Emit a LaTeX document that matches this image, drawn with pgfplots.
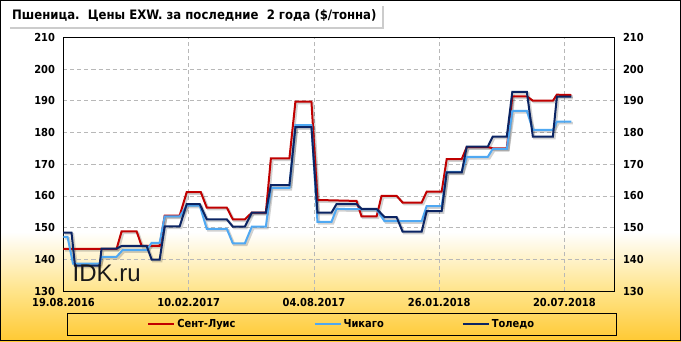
\documentclass[border=0pt]{standalone}
\usepackage{fontspec}
\setmainfont{DejaVu Sans Condensed}
\newfontfamily\wmfont{Liberation Sans}
\usepackage{pgfplots}
\usepackage{pgfplotstable}
\pgfplotsset{compat=1.18}
\definecolor{stl}{HTML}{C00000}
\definecolor{chi}{HTML}{4FA8F2}
\definecolor{tol}{HTML}{0B2463}
\definecolor{gold}{HTML}{FFC933}
\definecolor{goldlight}{HTML}{FFE386}
\pgfdeclareverticalshading{bgshade}{100bp}{color(0bp)=(gold); color(25bp)=(gold); color(32bp)=(goldlight); color(41bp)=(white); color(100bp)=(white)}

\pgfplotstableread{
x y
0 143.3
10.6 143.3
11.6 148.8
14.6 148.8
15.6 144.2
19.2 144.2
20.2 153.8
23.2 153.8
24.6 161.2
27.4 161.2
28.6 156.3
32.6 156.3
33.8 152.6
36.2 152.6
37.6 154.7
40.4 154.7
41.4 171.8
45.1 171.8
46.3 189.7
49.5 189.7
50.7 158.7
58.5 158.4
59.5 153.5
62.5 153.5
63.5 160.0
66.5 160.0
67.7 157.9
71.5 157.9
72.5 161.3
75.5 161.3
76.5 171.6
79.5 171.6
80.5 175.4
84.7 175.4
85.7 175.0
88.5 175.0
89.6 191.4
92.5 191.4
93.7 190.0
97.7 190.0
98.5 191.9
101.4 191.8
}\stl

\pgfplotstableread{
x y
0 147.1
0.8 147.1
1.9 138.6
7.2 138.6
7.6 140.8
10.6 140.8
11.8 142.9
16.6 142.9
17.6 145.2
19.2 145.2
20.2 153.5
23.2 153.5
24.6 156.9
27.2 156.9
28.6 149.6
32.6 149.6
33.8 145.0
36.2 145.0
37.6 150.3
40.4 150.3
41.4 162.5
45.1 162.5
46.3 182.3
49.5 182.3
50.7 151.8
53.5 151.8
54.5 155.9
62.5 155.7
64.1 152.0
71.5 152.0
72.5 156.8
75.5 156.8
76.5 167.6
79.5 167.6
80.5 172.3
84.7 172.3
85.7 174.8
88.5 174.8
89.6 186.8
92.5 186.8
93.7 180.8
97.7 180.8
98.5 183.4
101.4 183.4
}\chi

\pgfplotstableread{
x y
0 148.4
1.6 148.4
2.3 138.0
7.2 138.0
7.6 143.4
10.6 143.4
11.6 144.2
16.6 144.2
17.6 139.9
19.2 139.9
20.2 150.4
23.2 150.4
24.6 157.4
27.2 157.4
28.6 152.6
32.6 152.6
33.8 150.3
36.2 150.3
37.6 154.7
40.4 154.7
41.4 163.4
45.1 163.4
46.3 181.7
49.5 181.7
50.7 154.7
53.5 154.7
54.5 157.4
58.5 157.4
59.5 155.9
62.5 155.9
64.1 153.3
66.5 153.3
67.7 148.7
71.5 148.7
72.5 155.2
75.5 155.2
76.5 167.4
79.5 167.4
80.5 175.5
84.7 175.5
85.7 178.7
88.5 178.7
89.6 192.8
92.5 192.8
93.7 178.7
97.7 178.7
98.5 191.3
101.4 191.3
}\tol

\begin{document}
\begin{tikzpicture}
\useasboundingbox (0pt,0pt) rectangle (681pt,341pt);
\shade[shading=bgshade] (0pt,0pt) rectangle (681pt,341pt);
\draw[black, line width=1pt] (0.5pt,0.5pt) rectangle (680.5pt,340.5pt);
% title box
\fill[black!20] (9.5pt,311.5pt) rectangle (384pt,335pt);
\fill[white] (7pt,314pt) rectangle (381.5pt,337pt);
\node[anchor=west, inner sep=0pt, font=\bfseries\fontsize{13}{15}\selectfont] at (12pt,325.5pt) {Пшеница.\ \ Цены EXW. за последние\ \ 2 года (\$/тонна)};
% legend box
\draw[black, line width=0.8pt] (67.5pt,5.5pt) rectangle (616pt,28pt);
\begin{axis}[
  at={(63.5pt,50pt)}, anchor=south west,
  scale only axis, width=551pt, height=253.7pt,
  xmin=0, xmax=110, ymin=130, ymax=210,
  xtick={0,25,50,75,100},
  xticklabels={19.08.2016,10.02.2017,04.08.2017,26.01.2018,20.07.2018},
  ytick={130,140,...,210},
  grid=major,
  major grid style={dash pattern=on 4pt off 3pt, black!28, line width=0.6pt},
  tick style={draw=none},
  axis line style={black, line width=0.9pt},
  ticklabel style={font=\bfseries\fontsize{11}{13}\selectfont},
  /pgf/number format/assume math mode=true,
  yticklabel style={xshift=-5pt},
  xticklabel style={yshift=-3.5pt},
  legend columns=3,
  legend style={at={(0.505,-0.132)}, anchor=center, draw=none, fill=none,
    font=\bfseries\fontsize{11}{13}\selectfont,
    /tikz/every even column/.append style={column sep=76pt},
    inner sep=0pt},
  legend image code/.code={\draw[#1, line width=2pt] (0pt,0pt) -- (26pt,0pt);},
]
\addplot[forget plot, black, opacity=0.18, line width=2.5pt, shift={(1.5pt,-1.5pt)}] table {\stl};
\addplot[forget plot, black, opacity=0.18, line width=2.5pt, shift={(1.5pt,-1.5pt)}] table {\chi};
\addplot[forget plot, black, opacity=0.18, line width=2.5pt, shift={(1.5pt,-1.5pt)}] table {\tol};
\addplot[stl, line width=2pt] table {\stl};
\addplot[chi, line width=2pt] table {\chi};
\addplot[tol, line width=2pt] table {\tol};
\legend{Сент-Луис, Чикаго, Толедо}
\node[anchor=west, inner sep=0pt, font=\wmfont\fontsize{24}{26}\selectfont, text=black!90] at (axis cs:1.8,135.6) {IDK.ru};
\end{axis}
\begin{axis}[
  at={(63.5pt,50pt)}, anchor=south west,
  scale only axis, width=551pt, height=253.7pt,
  xmin=0, xmax=110, ymin=130, ymax=210,
  axis x line=none, axis y line*=right,
  ytick={130,140,...,210},
  tick style={draw=none},
  axis line style={black, line width=0.9pt},
  ticklabel style={font=\bfseries\fontsize{11}{13}\selectfont},
  /pgf/number format/assume math mode=true,
  yticklabel style={xshift=5pt},
]
\addplot[draw=none] coordinates {(0,130)};
\end{axis}
\end{tikzpicture}
\end{document}
